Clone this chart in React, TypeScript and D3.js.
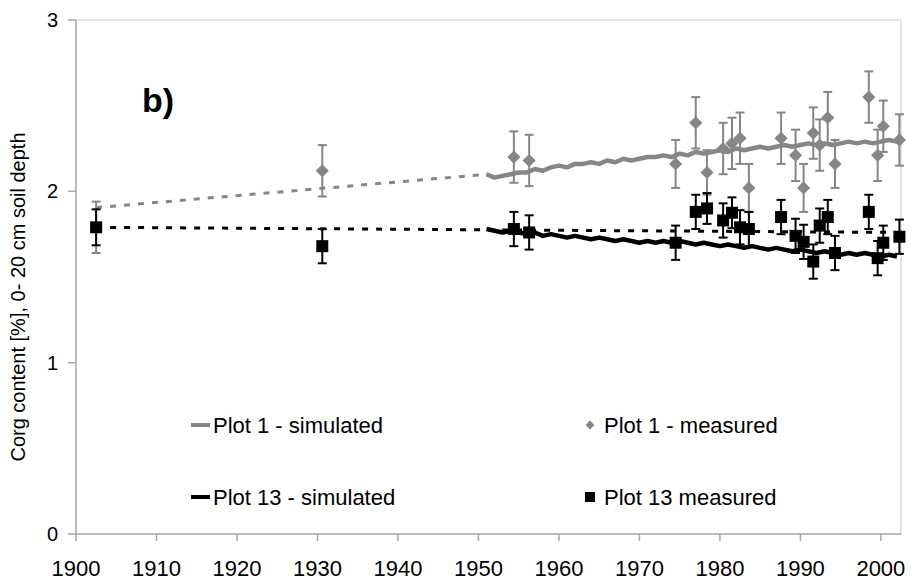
import React from "react";
import * as d3 from "d3";

// ---- data ----
const measuredYears = [1902.5, 1930.6, 1954.4, 1956.3, 1974.5, 1977.0, 1978.4, 1980.4, 1981.5, 1982.5, 1983.6, 1987.6, 1989.4, 1990.4, 1991.6, 1992.4, 1993.4, 1994.3, 1998.5, 1999.6, 2000.3, 2002.3];
const plot1Measured = [1.79, 2.12, 2.2, 2.18, 2.16, 2.4, 2.11, 2.25, 2.28, 2.31, 2.02, 2.31, 2.21, 2.02, 2.34, 2.27, 2.43, 2.16, 2.55, 2.21, 2.38, 2.3];
const plot1Err = [0.15, 0.15, 0.15, 0.15, 0.14, 0.15, 0.13, 0.15, 0.15, 0.15, 0.14, 0.15, 0.15, 0.14, 0.15, 0.15, 0.15, 0.14, 0.15, 0.15, 0.15, 0.15];
const plot13Measured = [1.79, 1.68, 1.78, 1.76, 1.7, 1.88, 1.9, 1.83, 1.875, 1.79, 1.78, 1.85, 1.74, 1.705, 1.59, 1.8, 1.85, 1.64, 1.88, 1.61, 1.7, 1.735];
const plot13Err = [0.105, 0.1, 0.1, 0.1, 0.1, 0.1, 0.09, 0.1, 0.09, 0.1, 0.1, 0.1, 0.1, 0.1, 0.1, 0.1, 0.1, 0.1, 0.1, 0.1, 0.1, 0.1];

const simYears = [1951, 1952, 1953, 1954, 1955, 1956, 1957, 1958, 1959, 1960, 1961, 1962, 1963, 1964, 1965, 1966, 1967, 1968, 1969, 1970, 1971, 1972, 1973, 1974, 1975, 1976, 1977, 1978, 1979, 1980, 1981, 1982, 1983, 1984, 1985, 1986, 1987, 1988, 1989, 1990, 1991, 1992, 1993, 1994, 1995, 1996, 1997, 1998, 1999, 2000, 2001, 2002];
const plot1Simulated = [2.1, 2.08, 2.09, 2.1, 2.11, 2.11, 2.13, 2.12, 2.14, 2.15, 2.14, 2.16, 2.16, 2.17, 2.16, 2.18, 2.17, 2.19, 2.18, 2.19, 2.2, 2.2, 2.21, 2.2, 2.22, 2.21, 2.23, 2.22, 2.23, 2.24, 2.23, 2.25, 2.24, 2.25, 2.26, 2.25, 2.26, 2.27, 2.26, 2.27, 2.28, 2.27, 2.28, 2.27, 2.28, 2.29, 2.28, 2.29, 2.28, 2.29, 2.3, 2.29];
const plot13Simulated = [1.78, 1.77, 1.76, 1.77, 1.76, 1.75, 1.76, 1.74, 1.75, 1.74, 1.73, 1.74, 1.73, 1.72, 1.73, 1.72, 1.71, 1.72, 1.71, 1.7, 1.71, 1.7, 1.71, 1.7, 1.71, 1.7, 1.69, 1.7, 1.69, 1.68, 1.69, 1.68, 1.67, 1.68, 1.67, 1.66, 1.67, 1.66, 1.65, 1.66, 1.65, 1.64, 1.65, 1.64, 1.63, 1.64, 1.63, 1.64, 1.63, 1.62, 1.63, 1.62];

const trend1Years = [1902.5, 1951.2];
const trend1Values = [1.905, 2.1];
const trend13Years = [1902.5, 2002.3];
const trend13Values = [1.79, 1.76];

const xTicks = [1900, 1910, 1920, 1930, 1940, 1950, 1960, 1970, 1980, 1990, 2000];
const yTicks = [0, 1, 2, 3];

const yTitle = "Corg content [%], 0- 20 cm soil depth";
const panelLabel = "b)";
const legendLabels = ["Plot 1 - simulated", "Plot 1 - measured", "Plot 13 - simulated", "Plot 13 measured"];

// ---- layout ----
const W = 912;
const H = 582;
const L = 76;
const R = 901;
const T = 20;
const B = 534;
const GRAY = "#868686";
const FONT = "'Liberation Sans', Arial, sans-serif";

export default function App() {
  const x = d3.scaleLinear().domain([1900, 2002.5]).range([L, R]);
  const y = d3.scaleLinear().domain([0, 3]).range([B, T]);

  const lineGen = d3
    .line<[number, number]>()
    .x((d) => x(d[0]))
    .y((d) => y(d[1]));

  const zip = (a: number[], b: number[]) => a.map((v, i) => [v, b[i]] as [number, number]);

  const diamond = d3.symbol().type(d3.symbolDiamond2).size(110)();

  const errBars = (vals: number[], errs: number[], color: string) =>
    measuredYears.map((yr, i) => {
      const cx = x(yr);
      const y1 = y(vals[i] + errs[i]);
      const y2 = y(vals[i] - errs[i]);
      return (
        <g key={i} stroke={color} strokeWidth={2}>
          <line x1={cx} x2={cx} y1={y1} y2={y2} />
          <line x1={cx - 4.5} x2={cx + 4.5} y1={y1} y2={y1} />
          <line x1={cx - 4.5} x2={cx + 4.5} y1={y2} y2={y2} />
        </g>
      );
    });

  return (
    <svg width={W} height={H} style={{ position: "absolute", left: 0, top: 0, background: "#fff" }} fontFamily={FONT}>
      {/* frame */}
      <line x1={L} x2={R} y1={T} y2={T} stroke="#d9d9d9" strokeWidth={1.5} />
      <line x1={R} x2={R} y1={T} y2={B} stroke="#d9d9d9" strokeWidth={1.5} />
      <line x1={L} x2={L} y1={T} y2={B} stroke="#a6a6a6" strokeWidth={1.5} />
      <line x1={L} x2={R} y1={B} y2={B} stroke="#a6a6a6" strokeWidth={1.5} />
      {yTicks.map((t) => (
        <g key={t}>
          <line x1={L - 8} x2={L} y1={y(t)} y2={y(t)} stroke="#a6a6a6" strokeWidth={1.5} />
          <text x={58} y={y(t)} dy="0.35em" textAnchor="end" fontSize={20}>
            {t}
          </text>
        </g>
      ))}
      {xTicks.map((t) => (
        <g key={t}>
          <line x1={x(t)} x2={x(t)} y1={B} y2={B + 7} stroke="#a6a6a6" strokeWidth={1.5} />
          <text x={x(t)} y={576} textAnchor="middle" fontSize={22}>
            {t}
          </text>
        </g>
      ))}
      <text transform={`translate(25,${(T + B) / 2 + 20}) rotate(-90)`} textAnchor="middle" fontSize={20}>
        {yTitle}
      </text>
      <text x={142} y={112} fontSize={34} fontWeight="bold">
        {panelLabel}
      </text>

      {/* trend lines */}
      <path d={lineGen(zip(trend1Years, trend1Values)) || ""} fill="none" stroke={GRAY} strokeWidth={3} strokeDasharray="6,8" />
      <path d={lineGen(zip(trend13Years, trend13Values)) || ""} fill="none" stroke="#000" strokeWidth={3} strokeDasharray="6,8" />

      {/* simulated */}
      <path d={lineGen(zip(simYears, plot1Simulated)) || ""} fill="none" stroke={GRAY} strokeWidth={4.5} strokeLinejoin="round" />
      <path d={lineGen(zip(simYears, plot13Simulated)) || ""} fill="none" stroke="#000" strokeWidth={4.5} strokeLinejoin="round" />

      {/* error bars */}
      {errBars(plot1Measured, plot1Err, GRAY)}
      {errBars(plot13Measured, plot13Err, "#000")}

      {/* markers */}
      {measuredYears.map((yr, i) => (
        <path key={"d" + i} d={diamond || ""} transform={`translate(${x(yr)},${y(plot1Measured[i])})`} fill={GRAY} />
      ))}
      {measuredYears.map((yr, i) => (
        <rect key={"s" + i} x={x(yr) - 6} y={y(plot13Measured[i]) - 6} width={12} height={12} fill="#000" />
      ))}

      {/* legend */}
      <g fontSize={22}>
        <line x1={191} x2={210} y1={425} y2={425} stroke={GRAY} strokeWidth={4} />
        <text x={213} y={425} dy="0.35em">{legendLabels[0]}</text>
        <path d={d3.symbol().type(d3.symbolDiamond2).size(50)() || ""} transform="translate(590,425)" fill={GRAY} />
        <text x={604} y={425} dy="0.35em">{legendLabels[1]}</text>
        <line x1={191} x2={210} y1={497} y2={497} stroke="#000" strokeWidth={4} />
        <text x={213} y={497} dy="0.35em">{legendLabels[2]}</text>
        <rect x={585} y={492} width={10} height={10} fill="#000" />
        <text x={604} y={497} dy="0.35em">{legendLabels[3]}</text>
      </g>
    </svg>
  );
}
